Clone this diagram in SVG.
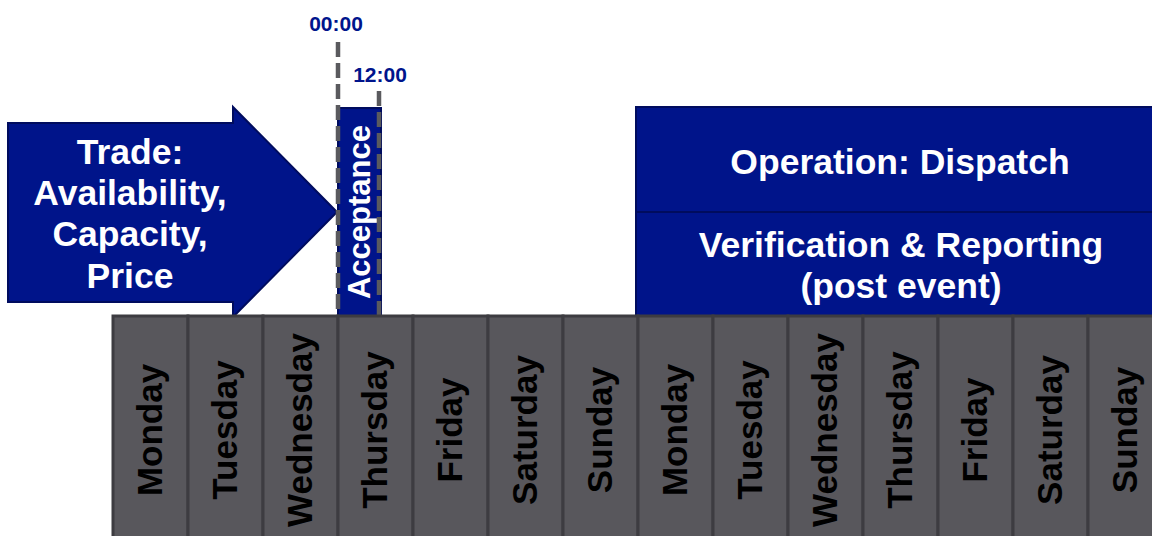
<svg xmlns="http://www.w3.org/2000/svg" width="1152" height="536" viewBox="0 0 1152 536">
  <style>
    .box { fill: #00148a; stroke: #000c5e; stroke-width: 2; }
    .wt { fill: #ffffff; font-family: "Liberation Sans", Arial, sans-serif; font-weight: bold; font-size: 35.5px; text-anchor: middle; }
    .day { fill: #58575c; stroke: #3d3c41; stroke-width: 3; }
    .dt { fill: #000000; font-family: "Liberation Sans", Arial, sans-serif; font-weight: bold; font-size: 35px; text-anchor: middle; }
    .time { fill: #00148c; font-family: "Liberation Sans", Arial, sans-serif; font-weight: bold; font-size: 21px; text-anchor: middle; }
    .dash { stroke: #5a5a5e; stroke-width: 4.5; stroke-dasharray: 15 6; fill: none; }
  </style>
  <rect width="1152" height="536" fill="#ffffff"/>

  <g id="trade">
    <path class="box" d="M8,123 L233,123 L233,107 L337,212 L233,317 L233,302 L8,302 Z"/>
    <text class="wt" x="130" y="164">Trade:</text>
    <text class="wt" x="130" y="205">Availability,</text>
    <text class="wt" x="130" y="246">Capacity,</text>
    <text class="wt" x="130" y="288">Price</text>
  </g>

  <g id="acceptance">
    <rect class="box" x="338" y="108" width="43" height="210"/>
    <text class="wt" style="font-size:31px" transform="translate(370,212) rotate(-90)">Acceptance</text>
  </g>

  <g id="operation">
    <rect class="box" x="636" y="107" width="520" height="105"/>
    <text class="wt" x="900" y="174">Operation: Dispatch</text>
  </g>

  <g id="verification">
    <rect class="box" x="636" y="212" width="520" height="106"/>
    <text class="wt" x="901" y="257">Verification &amp; Reporting</text>
    <text class="wt" x="901" y="298">(post event)</text>
  </g>

  <g id="connectors">
    <line class="dash" x1="338" y1="42" x2="338" y2="316"/>
    <line class="dash" x1="379" y1="91" x2="379" y2="316"/>
  </g>

  <g id="times">
    <text class="time" x="336" y="31">00:00</text>
    <text class="time" x="380" y="82">12:00</text>
  </g>

  <g id="days">
    <g id="day-1"><rect class="day" x="113" y="316" width="75" height="230"/><text class="dt" transform="translate(162,430) rotate(-90)">Monday</text></g>
    <g id="day-2"><rect class="day" x="188" y="316" width="75" height="230"/><text class="dt" transform="translate(237,430) rotate(-90)">Tuesday</text></g>
    <g id="day-3"><rect class="day" x="263" y="316" width="75" height="230"/><text class="dt" transform="translate(312,430) rotate(-90)">Wednesday</text></g>
    <g id="day-4"><rect class="day" x="338" y="316" width="75" height="230"/><text class="dt" transform="translate(387,430) rotate(-90)">Thursday</text></g>
    <g id="day-5"><rect class="day" x="413" y="316" width="75" height="230"/><text class="dt" transform="translate(462,430) rotate(-90)">Friday</text></g>
    <g id="day-6"><rect class="day" x="488" y="316" width="75" height="230"/><text class="dt" transform="translate(537,430) rotate(-90)">Saturday</text></g>
    <g id="day-7"><rect class="day" x="563" y="316" width="75" height="230"/><text class="dt" transform="translate(612,430) rotate(-90)">Sunday</text></g>
    <g id="day-8"><rect class="day" x="638" y="316" width="75" height="230"/><text class="dt" transform="translate(687,430) rotate(-90)">Monday</text></g>
    <g id="day-9"><rect class="day" x="713" y="316" width="75" height="230"/><text class="dt" transform="translate(762,430) rotate(-90)">Tuesday</text></g>
    <g id="day-10"><rect class="day" x="788" y="316" width="75" height="230"/><text class="dt" transform="translate(837,430) rotate(-90)">Wednesday</text></g>
    <g id="day-11"><rect class="day" x="863" y="316" width="75" height="230"/><text class="dt" transform="translate(912,430) rotate(-90)">Thursday</text></g>
    <g id="day-12"><rect class="day" x="938" y="316" width="75" height="230"/><text class="dt" transform="translate(987,430) rotate(-90)">Friday</text></g>
    <g id="day-13"><rect class="day" x="1013" y="316" width="75" height="230"/><text class="dt" transform="translate(1062,430) rotate(-90)">Saturday</text></g>
    <g id="day-14"><rect class="day" x="1088" y="316" width="75" height="230"/><text class="dt" transform="translate(1137,430) rotate(-90)">Sunday</text></g>
  </g>
</svg>
